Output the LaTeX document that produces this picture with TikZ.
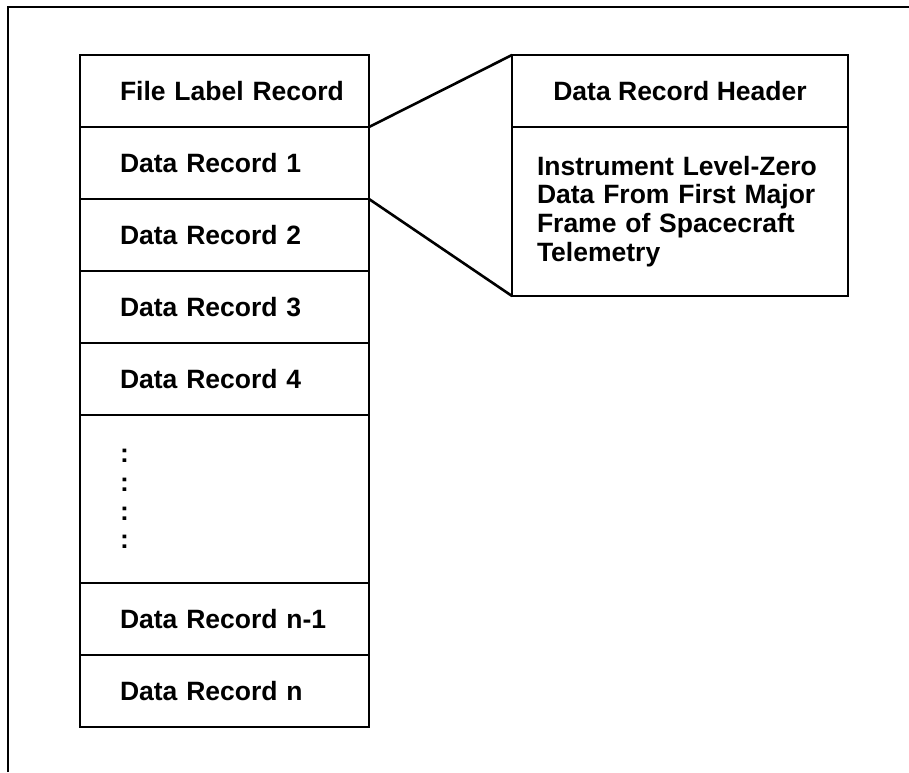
\documentclass[tikz,border=0pt]{standalone}
\usepackage{fontspec}
\setmainfont{Liberation Sans}
\usepackage{tikz}
\usetikzlibrary{positioning}
\newcommand{\recfont}{\fontsize{13.25}{14.4}\selectfont\bfseries}

\begin{document}
\begin{tikzpicture}[
  x=0.5pt, y=-0.5pt, line width=1.3pt,
  rec/.style={draw, outer sep=0pt, inner ysep=0pt, minimum width=144.5pt, minimum height=36pt, text width=104.5pt, inner xsep=20pt, align=left, font=\recfont},
  hdrbox/.style={draw, outer sep=0pt, inner ysep=0pt, minimum width=168pt, minimum height=36pt, align=center, font=\recfont},
  bodybox/.style={draw, outer sep=0pt, inner ysep=0pt, minimum width=168pt, minimum height=84.5pt, text width=143pt, inner xsep=12.5pt, align=left, font=\recfont}
]
\useasboundingbox (0,0) rectangle (909,772);
% outer frame (left and top only)
\draw (8,772) -- (8,7) -- (909,7);

% file layout
\node[rec] (flr) at (224.5,91) {\mbox{File Label Record}};
\node[rec, below=0pt of flr] (dr1) {Data Record 1};
\node[rec, below=0pt of dr1] (dr2) {Data Record 2};
\node[rec, below=0pt of dr2] (dr3) {Data Record 3};
\node[rec, below=0pt of dr3] (dr4) {Data Record 4};
\node[rec, below=0pt of dr4, minimum height=84pt] (dots) {:\\:\\:\\:};
\node[rec, below=0pt of dots] (drm) {Data Record n-1};
\node[rec, below=0pt of drm] (drn) {Data Record n};

% expanded record
\node[hdrbox] (hdr) at (680,91) {Data Record Header};
\node[bodybox, below=0pt of hdr] (body) {Instrument Level-Zero Data From First Major Frame of Spacecraft Telemetry};

\draw (flr.south east) -- (hdr.north west);
\draw (dr1.south east) -- (body.south west);
\end{tikzpicture}
\end{document}
